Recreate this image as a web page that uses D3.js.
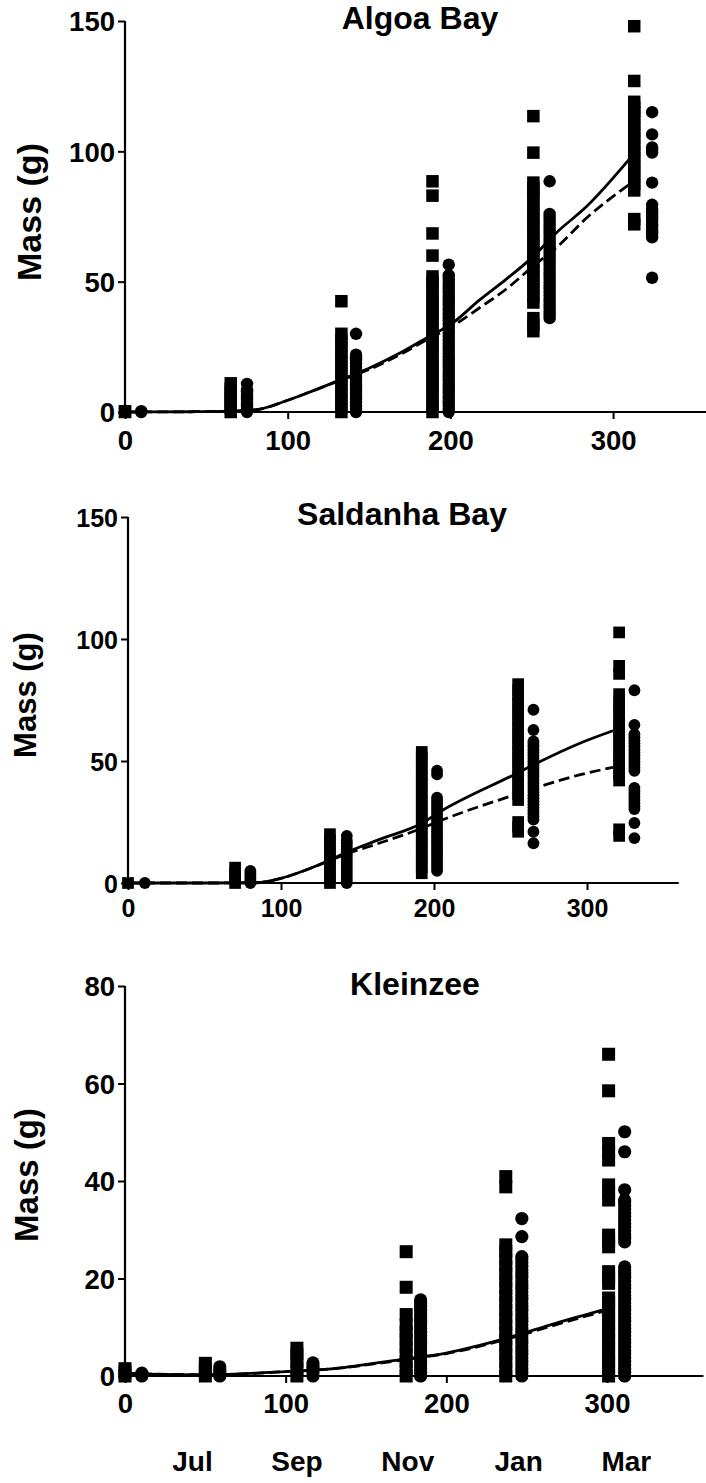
<!DOCTYPE html>
<html><head><meta charset="utf-8">
<script src="https://cdn.jsdelivr.net/npm/d3@7"></script>
<style>
html,body{margin:0;padding:0;background:#fff;}
svg text{font-family:"Liberation Sans",Arial,Helvetica,sans-serif;font-weight:bold;fill:#000;}
</style></head>
<body>
<svg id="chart" width="706" height="1483"></svg>
<script>
// ---------- DATA ----------
const titles = ["Algoa Bay", "Saldanha Bay", "Kleinzee"];
const yLabel = "Mass (g)";
const xTicks = [0, 100, 200, 300];
const algoaYTicks = [0, 50, 100, 150];
const salYTicks = [0, 50, 100, 150];
const kleinYTicks = [0, 20, 40, 60, 80];
const months = ["Jul", "Sep", "Nov", "Jan", "Mar"];
const monthDays = [42, 107, 176, 245, 312];

// Algoa Bay
const algoaSqDays = [0, 65, 133, 189, 251, 313];
const algoaSqMass = [
  [0, 0.3],
  [0, 1.5, 3, 4.5, 6, 7.5, 9, 11],
  [0, 2.5, 5, 7.5, 10, 12.5, 15, 17.5, 20, 22.5, 25, 27.5, 30, 42.5],
  [0, 2.5, 5, 7.5, 10, 12.5, 15, 17.5, 20, 22.5, 25, 27.5, 30, 32.5, 35, 37.5, 40, 42.5, 45, 47.5, 50, 52, 60, 68.5, 83, 88.5],
  [31, 33.5, 36, 42, 44.5, 47, 49.5, 52, 54.5, 57, 59.5, 62, 64.5, 67, 69.5, 72, 74.5, 77, 79.5, 82, 84.5, 86, 88, 99.5, 113.5],
  [72, 74, 85, 87.5, 90, 92.5, 95, 97.5, 100, 102.5, 105, 107.5, 110, 112.5, 115, 117, 119, 127, 148]
];
const algoaCiDays = [10, 75, 142, 199, 261, 324];
const algoaCiMass = [
  [0, 0.3],
  [0, 1, 2, 3, 4, 5, 6, 7, 8, 8.5, 10.8],
  [0, 1.25, 2.5, 3.75, 5, 6.25, 7.5, 8.75, 10, 11.25, 12.5, 13.75, 15, 16.25, 17.5, 18.75, 20, 21, 22, 30],
  [0, 1.25, 2.5, 3.75, 5, 6.25, 7.5, 8.75, 10, 11.25, 12.5, 13.75, 15, 16.25, 17.5, 18.75, 20, 21.25, 22.5, 23.75, 25, 26.25, 27.5, 28.75, 30, 31.25, 32.5, 33.75, 35, 36.25, 37.5, 38.75, 40, 41.25, 42.5, 43.75, 45, 46.25, 47.5, 48.75, 50, 51.25, 52.5, 56.5],
  [36, 37.25, 38.5, 39.75, 41, 42.25, 43.5, 44.75, 46, 47.25, 48.5, 49.75, 51, 52.25, 53.5, 54.75, 56, 57.25, 58.5, 59.75, 61, 62.25, 63.5, 64.75, 66, 67.25, 68.5, 69.75, 71, 72.25, 73.5, 74.75, 76, 88.5],
  [51.5, 67, 68, 69, 70, 71, 72, 73, 74, 75, 76, 77, 78, 79.5, 88, 99.5, 100.5, 101.5, 106.5, 115]
];
const algoaCurveDays = [0, 40, 65, 81, 100, 115, 133, 150, 169, 187, 200, 218, 234, 251, 265, 284, 310];
const algoaSolid =  [0, 0.1, 0.3, 0.9, 4.5, 8, 12.5, 16.8, 22.6, 29, 33.5, 43, 50.8, 59.7, 68.7, 79, 97];
const algoaDashed = [0, 0.1, 0.3, 0.9, 4.5, 8, 12.3, 16.3, 22, 28.2, 32.5, 40, 47, 56, 63, 74.6, 87.3];

// Saldanha Bay
const salSqDays = [0, 70, 132, 192, 255, 321];
const salSqMass = [
  [0],
  [0, 2, 4, 6.3],
  [0, 2.5, 5, 7.5, 10, 12.5, 15, 17.5, 20],
  [4, 6.5, 9, 11.5, 14, 16.5, 19, 21.5, 24, 26.5, 29, 31.5, 34, 36.5, 39, 41.5, 44, 46.5, 49, 51.5, 53.7],
  [21, 23, 25, 34, 36.5, 39, 41.5, 44, 46.5, 49, 51.5, 54, 56.5, 59, 61.5, 64, 66.5, 69, 71.5, 74, 76.5, 79, 81.5],
  [19.3, 22, 42, 44.5, 47, 49.5, 52, 54.5, 57, 59.5, 62, 64.5, 67, 69.5, 72, 74.5, 77.4, 85.7, 89, 102.7]
];
const salCiDays = [11, 80, 143, 202, 265, 331];
const salCiMass = [
  [0],
  [0, 1, 2, 3, 4, 5],
  [0, 1.25, 2.5, 3.75, 5, 6.25, 7.5, 8.75, 10, 11.25, 12.5, 13.75, 15, 16.25, 17.5, 19.3],
  [5, 6.25, 7.5, 8.75, 10, 11.25, 12.5, 13.75, 15, 16.25, 17.5, 18.75, 20, 21.25, 22.5, 23.75, 25, 26.25, 27.5, 28.75, 30, 31.25, 32.5, 33.75, 35, 44.5, 46],
  [16.3, 21, 26, 27.25, 28.5, 29.75, 31, 32.25, 33.5, 34.75, 36, 37.25, 38.5, 39.75, 41, 42.25, 43.5, 44.75, 46, 47.25, 48.5, 49.75, 51, 52.25, 53.5, 54.75, 56, 57, 58, 62.7, 71],
  [18.4, 24.6, 30.3, 31.5, 32.75, 34, 35.25, 36.5, 37.75, 39, 46, 47.25, 48.5, 49.75, 51, 52.25, 53.5, 54.75, 56, 57.25, 58.5, 59.75, 61, 64.8, 79]
];
const salCurveDays = [0, 50, 84, 100, 115, 132, 139, 165, 192, 204, 252, 269, 295, 317];
const salSolid =  [0, 0, 0.1, 1.9, 5, 9.4, 11.5, 18, 24.5, 29.2, 44.3, 49.7, 57.2, 62.4];
const salDashed = [0, 0, 0.1, 1.9, 5, 9.2, 11, 16.5, 22.4, 25.5, 36, 39.5, 44.3, 47.4];

// Kleinzee
const kleinSqDays = [0, 50, 107, 175, 237, 301];
const kleinSqMass = [
  [0, 0.75, 1.5],
  [0, 1.3, 2.6],
  [0, 1.5, 3, 4.5, 5.7],
  [0, 1.5, 3, 4.5, 6, 7.5, 9, 10.5, 12.6, 18.2, 25.5],
  [0, 1.5, 3, 4.5, 6, 7.5, 9, 10.5, 12, 13.5, 15, 16.5, 18, 19.5, 21, 22.5, 24, 25.5, 26.9, 38.8, 40.9],
  [0, 1.5, 3, 4.5, 6, 7.5, 9, 10.5, 12, 13.5, 15, 16, 19, 20.2, 21.4, 26.5, 27.7, 28.9, 36.1, 37.6, 39.2, 44.3, 46, 47.7, 58.5, 66]
];
const kleinCiDays = [10.5, 59, 117, 184, 247, 311];
const kleinCiMass = [
  [0, 0.6],
  [0, 0.6, 1.2, 1.9],
  [0, 0.7, 1.4, 2, 2.7],
  [0, 0.75, 1.5, 2.25, 3, 3.75, 4.5, 5.25, 6, 6.75, 7.5, 8.25, 9, 9.75, 10.5, 11.25, 12, 12.75, 13.5, 14.25, 15, 15.6],
  [0, 0.75, 1.5, 2.25, 3, 3.75, 4.5, 5.25, 6, 6.75, 7.5, 8.25, 9, 9.75, 10.5, 11.25, 12, 12.75, 13.5, 14.25, 15, 15.75, 16.5, 17.25, 18, 18.75, 19.5, 20.25, 21, 21.75, 22.5, 23.25, 24, 24.5, 28.6, 32.3],
  [0, 0.75, 1.5, 2.25, 3, 3.75, 4.5, 5.25, 6, 6.75, 7.5, 8.25, 9, 9.75, 10.5, 11.25, 12, 12.75, 13.5, 14.25, 15, 15.75, 16.5, 17.25, 18, 18.75, 19.5, 20.25, 21, 21.75, 22.4, 27.5, 28.25, 29, 29.75, 30.5, 31.25, 32, 32.75, 33.5, 34.25, 35, 35.75, 36.1, 38.2, 46, 50.1]
];
const kleinCurveDays = [0, 50, 100, 133, 146, 175, 200, 237, 269, 297];
const kleinSolid =  [0.55, 0.25, 0.9, 1.6, 2.2, 3.5, 4.7, 7.7, 10.9, 13.5];
const kleinDashed = [0.55, 0.25, 0.9, 1.6, 2.1, 3.4, 4.6, 7.5, 10.6, 13.2];

// ---------- LAYOUT ----------
const panels = [
  {title: titles[0], x0: 125, x1: 710.7, yTop: 21, yBot: 412, yMax: 150, yTicks: algoaYTicks,
   sqDays: algoaSqDays, sqMass: algoaSqMass, ciDays: algoaCiDays, ciMass: algoaCiMass,
   cDays: algoaCurveDays, solid: algoaSolid, dashed: algoaDashed,
   sq: 12.5, r: 6.2, tickFont: 27.5, xLabDy: 38, titleX: 420, titleY: 29, labFont: 34, labX: 41, labY: 212},
  {title: titles[1], x0: 128, x1: 678.8, yTop: 517, yBot: 883, yMax: 150, yTicks: salYTicks,
   sqDays: salSqDays, sqMass: salSqMass, ciDays: salCiDays, ciMass: salCiMass,
   cDays: salCurveDays, solid: salSolid, dashed: salDashed,
   sq: 11.7, r: 5.9, tickFont: 25, xLabDy: 34, titleX: 402, titleY: 525, labFont: 31, labX: 36, labY: 695},
  {title: titles[2], x0: 125, x1: 703.4, yTop: 986, yBot: 1376, yMax: 80, yTicks: kleinYTicks,
   sqDays: kleinSqDays, sqMass: kleinSqMass, ciDays: kleinCiDays, ciMass: kleinCiMass,
   cDays: kleinCurveDays, solid: kleinSolid, dashed: kleinDashed,
   sq: 13, r: 6.6, tickFont: 27.5, xLabDy: 37, titleX: 415, titleY: 995, labFont: 33, labX: 38, labY: 1175}
];

const svg = d3.select("#chart");

panels.forEach((p, pi) => {
  const x = d3.scaleLinear().domain([0, 360]).range([p.x0, p.x1]);
  const y = d3.scaleLinear().domain([0, p.yMax]).range([p.yBot, p.yTop]);
  const g = svg.append("g");

  // markers: squares
  p.sqDays.forEach((d, i) => {
    g.selectAll(null).data(p.sqMass[i]).enter().append("rect")
      .attr("x", x(d) - p.sq / 2).attr("y", v => y(v) - p.sq / 2)
      .attr("width", p.sq).attr("height", p.sq).attr("fill", "#000");
  });
  // markers: circles
  p.ciDays.forEach((d, i) => {
    g.selectAll(null).data(p.ciMass[i]).enter().append("circle")
      .attr("cx", x(d)).attr("cy", v => y(v)).attr("r", p.r).attr("fill", "#000");
  });

  // curves
  const line = d3.line().x(dd => x(dd[0])).y(dd => y(dd[1])).curve(d3.curveMonotoneX);
  g.append("path").datum(p.cDays.map((d, i) => [d, p.solid[i]]))
    .attr("d", line).attr("fill", "none").attr("stroke", "#000").attr("stroke-width", 2.8);
  g.append("path").datum(p.cDays.map((d, i) => [d, p.dashed[i]]))
    .attr("d", line).attr("fill", "none").attr("stroke", "#000").attr("stroke-width", 2.8)
    .attr("stroke-dasharray", "11,5");

  // axes
  const xAxis = d3.axisBottom(x).tickValues(xTicks).tickSize(7).tickPadding(3).tickFormat(d3.format("d"));
  const gx = g.append("g").attr("transform", `translate(0,${p.yBot})`).call(xAxis);
  gx.select(".domain").attr("d", `M${p.x0},0H${p.x1}`).attr("stroke-width", 2.2);
  gx.selectAll(".tick line").attr("stroke-width", 2);
  gx.selectAll(".tick text").attr("font-size", p.tickFont).attr("y", p.xLabDy).attr("dy", 0)
    .style("font-family", '"Liberation Sans",Arial,sans-serif').style("font-weight", "bold");

  const yAxis = d3.axisLeft(y).tickValues(p.yTicks).tickSize(7).tickPadding(3).tickFormat(d3.format("d"));
  const gy = g.append("g").attr("transform", `translate(${p.x0},0)`).call(yAxis);
  gy.select(".domain").attr("d", `M0,${p.yTop}V${p.yBot}`).attr("stroke-width", 2.2);
  gy.selectAll(".tick line").attr("stroke-width", 2);
  gy.selectAll(".tick text").attr("font-size", p.tickFont).attr("dy", "0.36em")
    .style("font-family", '"Liberation Sans",Arial,sans-serif').style("font-weight", "bold");

  // title
  g.append("text").attr("x", p.titleX).attr("y", p.titleY).attr("text-anchor", "middle")
    .attr("font-size", 32).text(p.title);
  // y label
  g.append("text").attr("transform", `translate(${p.labX},${p.labY}) rotate(-90)`)
    .attr("text-anchor", "middle").attr("font-size", p.labFont).text(yLabel);

  // month labels (bottom panel only)
  if (pi === 2) {
    g.selectAll(null).data(months).enter().append("text")
      .attr("x", (m, i) => x(monthDays[i])).attr("y", 1471)
      .attr("text-anchor", "middle").attr("font-size", 28).text(m => m);
  }
});
</script>
</body></html>
